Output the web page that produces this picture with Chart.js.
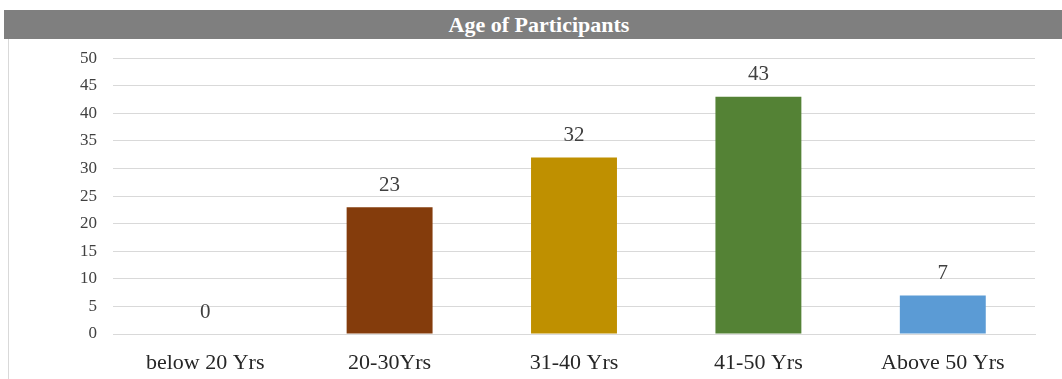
<!DOCTYPE html>
<html>
<head>
<meta charset="utf-8">
<script src="https://cdn.jsdelivr.net/npm/chart.js@4/dist/chart.umd.min.js"></script>
<style>
  html, body { margin: 0; padding: 0; background: #fff; }
  #wrap { position: relative; width: 1062px; height: 379px; overflow: hidden; }
  #banner {
    position: absolute; left: 4px; top: 10px; width: 1070px; height: 29px;
    background: #7f7f7f; color: #fff; text-align: center;
    font: bold 22px "Liberation Serif", "Times New Roman", serif; line-height: 29px;
  }
  #frame { position: absolute; left: 8px; top: 39px; width: 1px; height: 340px; background: #d9d9d9; }
  #box { position: absolute; left: 0; top: 32px; width: 1062px; height: 347px; }
</style>
</head>
<body>
<div id="wrap">
  <div id="banner">Age of Participants</div>
  <div id="frame"></div>
  <div id="box"><canvas id="chart"></canvas></div>
</div>
<script>
// ---- DADOS ----
var categorias = ['below 20 Yrs', '20-30Yrs', '31-40 Yrs', '41-50 Yrs', 'Above 50 Yrs'];
var valores    = [0, 23, 32, 43, 7];
var cores      = ['#843c0c', '#843c0c', '#bf9000', '#548235', '#5b9bd5'];
var yTicks     = [0, 5, 10, 15, 20, 25, 30, 35, 40, 45, 50];

var serif = '"Liberation Serif", "Times New Roman", serif';

// rótulos em cima das barras
var valueLabels = {
  id: 'valueLabels',
  afterDatasetsDraw: function(chart) {
    var ctx = chart.ctx;
    var meta = chart.getDatasetMeta(0);
    ctx.save();
    ctx.fillStyle = '#404040';
    ctx.font = '21px ' + serif;
    ctx.textAlign = 'center';
    ctx.textBaseline = 'middle';
    meta.data.forEach(function(bar, i) {
      ctx.fillText(String(valores[i]), bar.x, bar.y - 22);
    });
    ctx.restore();
  }
};

new Chart(document.getElementById('chart'), {
  type: 'bar',
  data: {
    labels: categorias,
    datasets: [{
      data: valores,
      backgroundColor: cores,
      borderWidth: 0,
      categoryPercentage: 1,
      barPercentage: 0.466
    }]
  },
  options: {
    responsive: true,
    maintainAspectRatio: false,
    animation: false,
    layout: { padding: { top: 10, right: 27, bottom: 0, left: 0 } },
    plugins: {
      legend: { display: false },
      tooltip: { enabled: false }
    },
    scales: {
      x: {
        grid: { display: false, drawTicks: false },
        border: { display: true, color: '#d9d9d9', width: 1 },
        ticks: { color: '#262626', font: { family: serif, size: 22 }, padding: 16, maxRotation: 0 },
        afterFit: function(s) { s.height = 45; }
      },
      y: {
        min: 0, max: 50,
        afterBuildTicks: function(s) { s.ticks = yTicks.map(function(v) { return { value: v }; }); },
        grid: { color: '#d9d9d9', drawTicks: false },
        border: { display: false },
        ticks: { color: '#404040', font: { family: serif, size: 17 }, padding: 16 },
        afterFit: function(s) { s.width = 113; }
      }
    }
  },
  plugins: [valueLabels]
});
</script>
</body>
</html>
